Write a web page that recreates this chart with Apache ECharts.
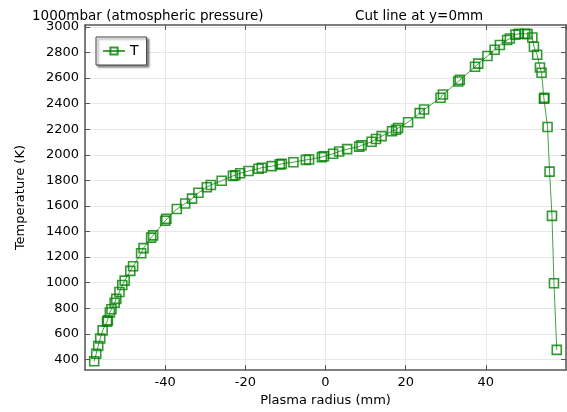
<!DOCTYPE html>
<html>
<head>
<meta charset="utf-8">
<script src="https://cdn.jsdelivr.net/npm/echarts@6/dist/echarts.min.js"></script>
<style>
    html, body { margin: 0; padding: 0; background: #fff; }
    #id-div-chart { width: 567px; height: 412px; }
</style>
</head>
<body>
<div id="id-div-chart"></div>
<script>
var log = console.log.bind(console)

var e = (selector) => document.querySelector(selector)

// 半径 (mm) 和温度 (K)
var radius = [
    -57.7, -57.2, -56.7, -56.2, -55.6, -54.5, -54.3, -53.8, -53.4, -52.6,
    -52.2, -51.4, -50.7, -50.1, -48.7, -48.0, -46.0, -45.4, -43.5, -43.0,
    -40.0, -39.7, -37.1, -35.0, -33.3, -31.7, -29.6, -28.6, -25.9, -23.1,
    -22.5, -21.3, -19.2, -16.7, -15.9, -13.4, -11.4, -10.9, -8.0, -4.9,
    -4.1, -0.9, -0.4, 1.9, 3.4, 5.4, 8.4, 9.0, 11.5, 12.6,
    14.0, 16.6, 17.6, 18.1, 20.6, 23.5, 24.6, 28.7, 29.3, 33.1,
    33.5, 37.3, 38.1, 40.4, 42.2, 43.5, 45.3, 46.0, 47.4, 48.2,
    49.8, 50.4, 51.6, 52.0, 52.8, 53.5, 53.9, 54.5, 54.6, 55.4,
    55.9, 56.5, 57.0, 57.7,
]
var temperature = [
    385, 444, 505, 563, 627, 695, 705, 766, 792, 843,
    873, 927, 982, 1016, 1092, 1128, 1230, 1270, 1352, 1370,
    1484, 1499, 1576, 1619, 1657, 1703, 1746, 1764, 1797, 1835,
    1840, 1856, 1873, 1891, 1899, 1911, 1925, 1929, 1942, 1960,
    1963, 1982, 1988, 2008, 2026, 2044, 2064, 2074, 2102, 2123,
    2146, 2184, 2196, 2209, 2255, 2326, 2354, 2446, 2471, 2573,
    2586, 2688, 2713, 2772, 2822, 2858, 2898, 2909, 2940, 2947,
    2947, 2944, 2917, 2845, 2782, 2683, 2642, 2438, 2445, 2217,
    1868, 1522, 995, 474,
]
var yTicks = [400, 600, 800, 1000, 1200, 1400, 1600, 1800, 2000, 2200, 2400, 2600, 2800, 3000]

var font = 'DejaVu Sans'
var frameColor = '#555'
var gridColor = '#e8e8e8'

var configuredChart = function() {
    var element = e('#id-div-chart')
    var chart = echarts.init(element, null, {renderer: 'canvas'})
    return chart
}

var seriesData = function() {
    var d = []
    for (var i = 0; i < radius.length; i++) {
        d.push([radius[i], temperature[i]])
    }
    return d
}

var plain = (v) => String(v)

var formattedOption = function() {
    var option = {
        animation: false,
        backgroundColor: '#fff',
        textStyle: {fontFamily: font},
        title: [
            {
                text: '1000mbar (atmospheric pressure)',
                left: 27, top: 4,
                textStyle: {fontFamily: font, fontSize: 13.5, fontWeight: 'normal', color: '#000'},
            },
            {
                text: 'Cut line at y=0mm',
                left: 350, top: 4,
                textStyle: {fontFamily: font, fontSize: 13.5, fontWeight: 'normal', color: '#000'},
            },
        ],
        legend: {
            left: 96, top: 37,
            orient: 'vertical',
            padding: [7, 8, 7, 6],
            itemWidth: 22, itemHeight: 9,
            itemGap: 4,
            backgroundColor: '#fff',
            borderColor: '#444',
            borderWidth: 1,
            borderRadius: 0,
            shadowColor: 'rgba(0,0,0,0.45)',
            shadowBlur: 2,
            shadowOffsetX: 2,
            shadowOffsetY: 2,
            textStyle: {fontFamily: font, fontSize: 14, color: '#000'},
            data: ['T'],
        },
        grid: {left: 85, right: 1, top: 25, bottom: 33, containLabel: false},
        xAxis: [
            {
                type: 'value',
                min: -60, max: 60, interval: 20,
                name: 'Plasma radius (mm)',
                nameLocation: 'middle',
                nameGap: 17,
                nameTextStyle: {fontFamily: font, fontSize: 13, color: '#000'},
                axisLine: {lineStyle: {color: frameColor, width: 1.5}},
                axisTick: {inside: true, length: 5, lineStyle: {color: frameColor}},
                axisLabel: {fontFamily: font, fontSize: 13, color: '#000', margin: 6, showMinLabel: false, showMaxLabel: false, formatter: plain},
                splitLine: {lineStyle: {color: gridColor}},
            },
            {
                type: 'value', position: 'top',
                min: -60, max: 60, interval: 20,
                axisLine: {onZero: false, lineStyle: {color: frameColor, width: 1.5}},
                axisTick: {inside: true, length: 5, lineStyle: {color: frameColor}},
                axisLabel: {show: false},
                splitLine: {show: false},
            },
        ],
        yAxis: [
            {
                type: 'value',
                min: 316, max: 3015,
                name: 'Temperature (K)',
                nameLocation: 'middle',
                nameGap: 58,
                nameTextStyle: {fontFamily: font, fontSize: 13, color: '#000'},
                axisLine: {onZero: false, lineStyle: {color: frameColor, width: 1.5}},
                axisTick: {inside: true, length: 5, customValues: yTicks, lineStyle: {color: frameColor}},
                axisLabel: {fontFamily: font, fontSize: 13, color: '#000', margin: 6, customValues: yTicks, formatter: plain},
                splitLine: {lineStyle: {color: gridColor}},
            },
            {
                type: 'value', position: 'right',
                min: 316, max: 3015,
                axisLine: {show: true, onZero: false, lineStyle: {color: frameColor, width: 1.5}},
                axisTick: {show: true, inside: true, length: 5, customValues: yTicks, lineStyle: {color: frameColor}},
                axisLabel: {show: false},
                splitLine: {show: false},
            },
        ],
        series: [
            {
                name: 'T',
                type: 'line',
                data: seriesData(),
                symbol: 'rect',
                symbolSize: 9,
                showAllSymbol: true,
                clip: false,
                lineStyle: {color: 'rgba(20,140,20,0.8)', width: 1},
                itemStyle: {color: 'rgba(255,255,255,0)', borderColor: 'rgba(0,128,0,0.8)', borderWidth: 1.6},
            },
        ],
    }
    return option
}

var __main = function() {
    var chart = configuredChart()
    chart.setOption(formattedOption())
}

__main()
</script>
</body>
</html>
